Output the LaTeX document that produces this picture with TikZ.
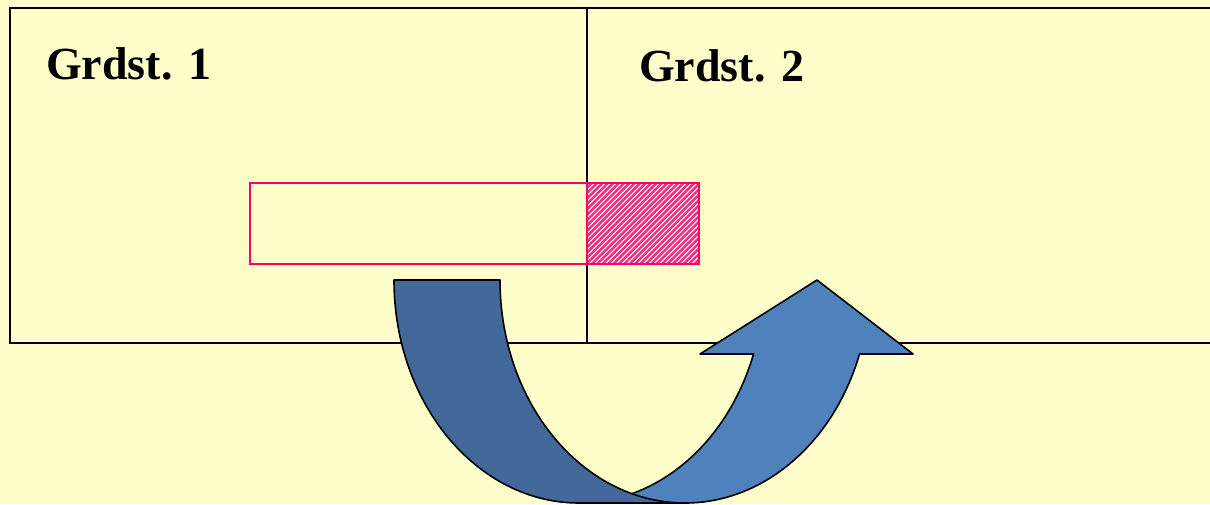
\documentclass[tikz,border=0pt]{standalone}
\usepackage{fontspec}
\setmainfont{Liberation Serif}
\definecolor{bgyellow}{HTML}{FFFFCC}
\definecolor{lotpink}{HTML}{FF0066}
\definecolor{hatchpink}{HTML}{FF2A80}
\definecolor{darkband}{HTML}{426999}
\definecolor{lightband}{HTML}{4F81BD}
\tikzset{
  lot/.style={draw=black, line width=2pt},
  bldg/.style={draw=lotpink, line width=2.2pt},
  band/.style={draw=black, line width=1.6pt, line join=round},
  lbl/.style={anchor=base west, inner sep=0pt, font=\fontsize{46}{50}\selectfont\bfseries}
}
\begin{document}
\begin{tikzpicture}[x=1pt, y=1pt]
\useasboundingbox (0,0) rectangle (1210,504);
\fill[bgyellow] (0,0) rectangle (1210,504);
% lots
\draw[lot] (10,161) rectangle (587,496);
\draw[lot] (587,161) rectangle (1220,496);
\node[lbl] (g1) at (46,424) {Grdst. 1};
\node[lbl] (g2) at (639,422) {Grdst. 2};
% building
\begin{scope}
  \clip (587,240) rectangle (699,321);
  \fill[white] (587,240) rectangle (699,321);
  \foreach \k in {0,...,38} {
    \draw[hatchpink, line width=2.4pt] (500+\k*5.4,240) -- ++(81,81);
  }
\end{scope}
\draw[bldg] (250,240) rectangle (587,321);
\draw[bldg] (587,240) rectangle (699,321);
% curved up arrow: light (front arrow part) first
\draw[band, fill=lightband]
  (859.5,150) arc[start angle=-19.38, end angle=-90, x radius=185, y radius=223]
  -- (579,1) arc[start angle=-90, end angle=-19.38, x radius=185, y radius=223]
  -- (700,150) -- (817,224) -- (913,150) -- cycle;
% dark band on top
\draw[band, fill=darkband]
  (394,224) arc[start angle=180, end angle=270, x radius=185, y radius=223]
  -- (685,1) arc[start angle=270, end angle=180, x radius=185, y radius=223]
  -- cycle;
\end{tikzpicture}
\end{document}
